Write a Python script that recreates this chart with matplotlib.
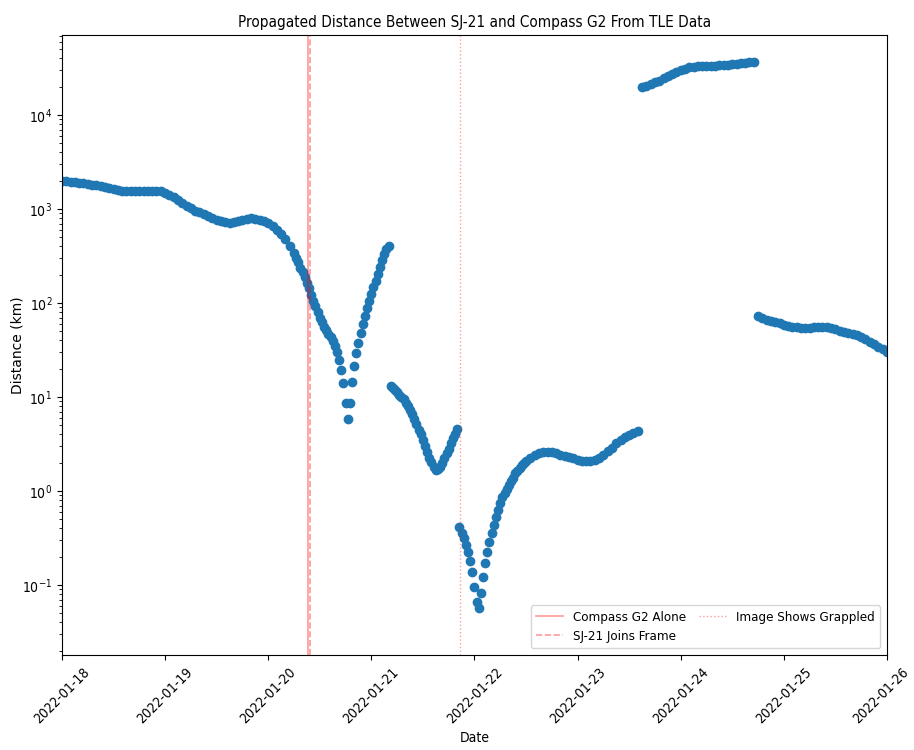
import numpy as np
import matplotlib
matplotlib.use('Agg')
import matplotlib.pyplot as plt
import matplotlib.dates as mdates
import matplotlib.transforms as mtransforms

plt.rcParams['font.family'] = ['DejaVu Sans']
plt.rcParams['font.stretch'] = 'condensed'

START = np.datetime64('2022-01-18T00:00')

# hours after START, distance in km (one list pair per TLE pairing)
seg1_hours = [0, 1, 2, 3, 4, 5, 6, 7, 8, 9, 10, 11, 12, 13, 14, 15, 16, 17, 18, 19,
              20, 21, 22, 23, 24, 25, 26, 27, 28, 29, 30, 31, 32, 33, 34, 35, 36, 37, 38, 39,
              40, 41, 42, 43, 44, 45, 46, 47, 48, 49, 50, 51, 52, 53,
              54, 54.5, 55, 55.5, 56, 56.5, 57, 57.5, 58, 58.5, 59, 59.5, 60, 60.5, 61, 61.5,
              62, 62.5, 63, 63.5, 64, 64.5, 65, 65.5, 66, 66.5, 67, 67.5, 68, 68.5, 69, 69.5,
              70, 70.5, 71, 71.5, 72, 72.5, 73, 73.5, 74, 74.5, 75, 75.5, 76]
seg1_km = [2000, 1977, 1950, 1923, 1896, 1868, 1835, 1805, 1778, 1753, 1706, 1665, 1625, 1592,
           1566, 1546, 1535, 1546, 1553, 1562, 1570, 1570, 1562, 1553, 1479, 1415, 1331, 1247,
           1159, 1077, 1012, 961, 918, 876, 832, 794, 768, 738, 724, 716, 718, 745, 764, 783,
           794, 783, 764, 736, 710, 652, 598, 542, 474, 404,
           340, 301, 270, 236, 211, 187, 165, 143, 122, 106, 92, 80, 70, 62.5, 56, 51,
           47, 43, 39, 34.5, 30, 24.8, 19.4, 14.1, 8.6, 5.8, 8.6, 14.5, 21.4, 29.4, 37.5, 48.0,
           59.8, 72.8, 88.5, 105, 125, 148, 171, 204, 242, 287, 332, 375, 404]

seg2_hours = [76.5, 77, 77.5, 78, 78.5, 79, 79.5, 80, 80.5, 81, 81.5, 82, 82.5, 83, 83.5, 84,
              84.5, 85, 85.5, 86, 86.5, 87, 87.5, 88, 88.5, 89, 89.5, 90, 90.5, 91, 91.5, 92]
seg2_km = [13.1, 12.6, 11.9, 11.2, 10.6, 10.05, 9.4, 8.6, 7.94, 7.31, 6.67, 5.9, 5.16, 4.48,
           3.99, 3.49, 2.99, 2.57, 2.26, 2.04, 1.82, 1.69, 1.71, 1.82, 1.99, 2.22, 2.51, 2.81,
           3.20, 3.62, 4.04, 4.6]

seg3_hours = [92.5, 93, 93.5, 94, 94.5, 95, 95.5, 96, 96.5, 97, 97.5, 98, 98.5, 99, 99.5, 100,
              100.5, 101, 101.5, 102, 102.5, 103, 103.5, 104, 104.5, 105, 105.5, 106, 106.5,
              107, 107.5, 108,
              109, 110, 111, 112, 113, 114, 115, 116, 117, 118, 119, 120, 121, 122, 123, 124,
              125, 126, 127, 128, 129, 130, 131, 132, 133, 134]
seg3_km = [0.417, 0.357, 0.314, 0.267, 0.226, 0.180, 0.136, 0.096, 0.066, 0.0565, 0.0828,
           0.1225, 0.170, 0.226, 0.289, 0.360, 0.435, 0.525, 0.628, 0.740, 0.857, 0.96, 1.06,
           1.17, 1.28, 1.39, 1.55, 1.65, 1.76, 1.87, 1.96, 2.06,
           2.27, 2.42, 2.51, 2.58, 2.62, 2.60, 2.54, 2.44, 2.36, 2.28, 2.22, 2.15, 2.10, 2.06,
           2.07, 2.14, 2.27, 2.44, 2.63, 2.90, 3.20, 3.49, 3.71, 3.94, 4.14, 4.35]

seg4_hours = [135, 136, 137, 138, 139, 140, 141, 142, 143, 144, 145, 146, 147, 148, 149, 150,
              151, 152, 153, 154, 155, 156, 157, 158, 159, 160, 161]
seg4_km = [19600, 20500, 21300, 22200, 23200, 24500, 25800, 27300, 28700, 30100, 31100, 32000,
           32700, 33200, 33500, 33500, 33500, 33500, 33600, 33900, 34200, 34600, 34900, 35300,
           35600, 36200, 36600]

seg5_hours = [162, 163, 164, 165, 166, 167, 168, 169, 170, 171, 172, 173, 174, 175, 176, 177,
              178, 179, 180, 181, 182, 183, 184, 185, 186, 187, 188, 189, 190, 191, 192]
seg5_km = [71.8, 69.2, 66.7, 64.4, 62.3, 60.5, 58.8, 57.2, 56.1, 55.3, 54.7, 54.6, 54.7, 54.9,
           55.0, 55.1, 55.1, 53.9, 52.3, 50.9, 49.4, 48.0, 46.6, 45.1, 43.1, 41.1, 38.9, 36.6,
           34.2, 32.0, 30.1]

# event times
compass_alone = np.datetime64('2022-01-20T09:15')
sj21_joins = np.datetime64('2022-01-20T09:40')
grappled = np.datetime64('2022-01-21T20:35')

hours = np.array(seg1_hours + seg2_hours + seg3_hours + seg4_hours + seg5_hours)
dist = np.array(seg1_km + seg2_km + seg3_km + seg4_km + seg5_km)
dates = START + (hours * 60).astype(int).astype('timedelta64[m]')

fig = plt.figure(figsize=(9.14, 7.5), dpi=100)
ax = fig.add_axes([0.0678, 0.1267, 0.9026, 0.8267])

ax.scatter(dates, dist, s=36, color='#1f77b4')
ax.axvline(compass_alone, color='red', alpha=0.4, lw=1.2, ls='-', label='Compass G2 Alone')
ax.axvline(sj21_joins, color='red', alpha=0.4, lw=1.2, ls='--', label='SJ-21 Joins Frame')
ax.axvline(grappled, color='red', alpha=0.4, lw=1.0, ls=':', label='Image Shows Grappled')

ax.set_yscale('log')
ax.set_ylim(0.018, 7.1e4)
ax.set_xlim(np.datetime64('2022-01-18'), np.datetime64('2022-01-26'))
ax.xaxis.set_major_locator(mdates.DayLocator())
ax.xaxis.set_major_formatter(mdates.DateFormatter('%Y-%m-%d'))
plt.setp(ax.get_xticklabels(), rotation=45, ha='center', fontsize=10)

# nudge the last date label so it stays inside the figure
last = ax.get_xticklabels()[-1]
last.set_transform(last.get_transform() +
                   mtransforms.ScaledTranslation(-6 / 100, 0, fig.dpi_scale_trans))

ax.set_title('Propagated Distance Between SJ-21 and Compass G2 From TLE Data', fontsize=11)
ax.set_xlabel('Date')
ax.set_ylabel('Distance (km)', fontstretch='normal')
ax.yaxis.set_label_coords(-0.046, 0.5)
ax.legend(loc='lower right', ncol=2, fontsize=9.5, handlelength=2.0, columnspacing=1.0)

fig.savefig('out.png', dpi=100)
